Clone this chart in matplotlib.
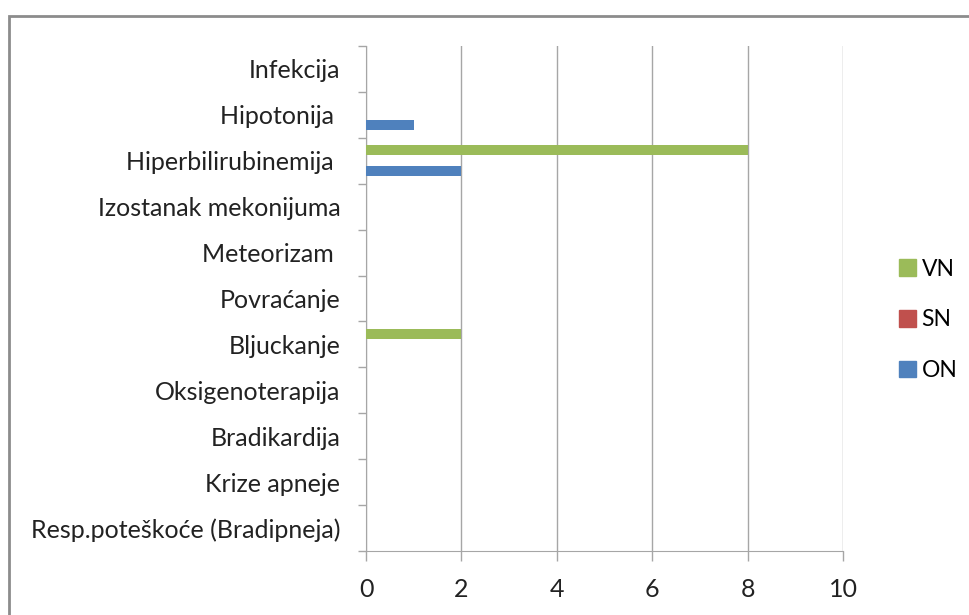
import matplotlib
matplotlib.use("Agg")
import matplotlib.pyplot as plt
from matplotlib.patches import Rectangle, Patch
from matplotlib.ticker import FixedLocator
import numpy as np

plt.rcParams['font.family'] = ['Lato', 'DejaVu Sans']

# categories from bottom to top
categories = ['Resp.poteškoće (Bradipneja)', 'Krize apneje', 'Bradikardija',
              'Oksigenoterapija', 'Bljuckanje', 'Povraćanje', 'Meteorizam ',
              'Izostanak mekonijuma', 'Hiperbilirubinemija ', 'Hipotonija ',
              'Infekcija']
on_vals = [0, 0, 0, 0, 0, 0, 0, 0, 2, 1, 0]
sn_vals = [0, 0, 0, 0, 0, 0, 0, 0, 0, 0, 0]
vn_vals = [0, 0, 0, 0, 2, 0, 0, 0, 8, 0, 0]
xticks = [0, 2, 4, 6, 8, 10]

c_on = '#4F81BD'
c_sn = '#C0504D'
c_vn = '#9BBB59'
grid_c = '#A6A6A6'

fig = plt.figure(figsize=(9.69, 6.15), dpi=100)
ax = fig.add_axes([366/969, 1-551/615, (843-366)/969, (551-46)/615])

y = np.arange(len(categories))
h = 0.22
off = 0.23
ax.barh(y - off, on_vals, height=h, color=c_on, label='ON', zorder=3)
ax.barh(y, sn_vals, height=h, color=c_sn, label='SN', zorder=3)
ax.barh(y + off, vn_vals, height=h, color=c_vn, label='VN', zorder=3)

ax.set_xlim(0, 10)
ax.set_ylim(-0.5, len(categories) - 0.5)
ax.set_xticks(xticks)
ax.set_xticklabels([str(v) for v in xticks], fontsize=18, color='#222222')
ax.set_yticks(y)
ax.set_yticklabels(categories, fontsize=18, color='#222222')
ax.yaxis.set_minor_locator(FixedLocator(np.arange(-0.5, len(categories), 1)))
ax.tick_params(axis='y', which='major', length=0, pad=18.5)
ax.tick_params(axis='y', which='minor', length=5.8, color=grid_c, width=1)
ax.tick_params(axis='x', which='major', length=7.2, color=grid_c, width=1, pad=12)

ax.grid(axis='x', color=grid_c, linewidth=1, zorder=0)
for s in ['top', 'right']:
    ax.spines[s].set_visible(False)
ax.spines['left'].set_color(grid_c)
ax.spines['bottom'].set_color(grid_c)

handles = [Patch(color=c_vn, label='VN'), Patch(color=c_sn, label='SN'),
           Patch(color=c_on, label='ON')]
fig.legend(handles=handles, loc='center left', bbox_to_anchor=(0.918, 0.48),
           frameon=False, fontsize=16.5, handlelength=0.75, handleheight=0.75,
           handletextpad=0.25, labelspacing=1.3, borderaxespad=0)

# outer chart frame
fig.patches.append(Rectangle((9/969, -0.1), 1.2, 1 - 16/615 + 0.1,
                             transform=fig.transFigure, fill=False,
                             edgecolor='#8C8C8C', linewidth=2))

fig.savefig('out.png', dpi=100)
